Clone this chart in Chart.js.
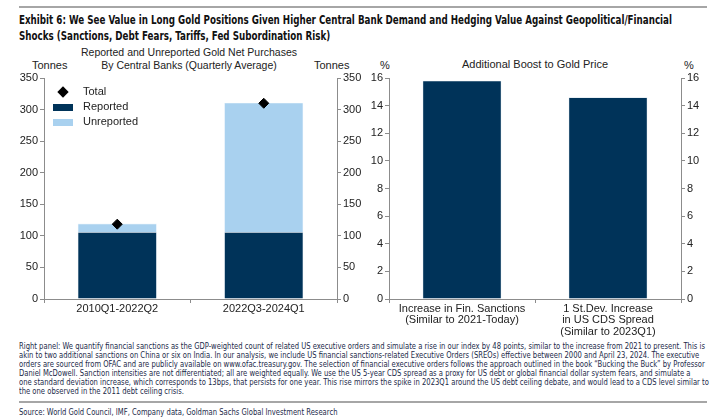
<!DOCTYPE html>
<html>
<head>
<meta charset="utf-8">
<script src="https://cdn.jsdelivr.net/npm/chart.js@4.4.1/dist/chart.umd.min.js"></script>
<style>
  html, body { margin: 0; padding: 0; background: #fff; }
  body { width: 712px; height: 419px; position: relative; overflow: hidden; font-family: "Liberation Sans", Arial, sans-serif; color: #222; }
  .abs { position: absolute; }
  .rule { position: absolute; left: 19px; width: 688px; background: #a6a6a6; }
  .narrow { font-family: "Liberation Sans Narrow", "Arial Narrow", "DejaVu Sans Condensed", sans-serif; white-space: nowrap; transform-origin: 0 0; }
  #title { left: 19px; top: 13px; font-size: 12px; font-weight: bold; line-height: 15.5px; color: #111; }
  .sub { font-size: 10.5px; line-height: 12.5px; text-align: center; color: #222; white-space: nowrap; }
  .unit { font-size: 11px; color: #222; }
  #note { left: 19px; top: 341px; font-size: 9.3px; line-height: 9px; color: #1b2a49; }
  #src { left: 19px; top: 406px; font-size: 9.3px; color: #1b2a49; }
  .leg { font-size: 11px; color: #222; }
  .sw { position: absolute; width: 20px; height: 7px; }
  .box { position: absolute; }
</style>
</head>
<body>
<div class="rule" style="top:6px;height:2px"></div>
<div id="title" class="abs narrow"><span>Exhibit 6: We See Value in Long Gold Positions Given Higher Central Bank Demand and Hedging Value Against Geopolitical/Financial</span><br>Shocks (Sanctions, Debt Fears, Tariffs, Fed Subordination Risk)</div>

<div class="abs sub" style="left:79px;top:46px;width:220px">Reported and Unreported Gold Net Purchases<br>By Central Banks (Quarterly Average)</div>
<div class="abs unit" style="left:32px;top:59px">Tonnes</div>
<div class="abs unit" style="left:314px;top:59px">Tonnes</div>

<div class="abs sub" style="left:430px;top:58px;width:210px;font-size:11px">Additional Boost to Gold Price</div>
<div class="abs unit" style="left:380px;top:59px">%</div>
<div class="abs unit" style="left:684px;top:59px">%</div>

<div class="box" style="left:11px;top:68px;width:360px;height:271px"><canvas id="left"></canvas></div>
<div class="box" style="left:356px;top:68px;width:353px;height:271px"><canvas id="right"></canvas></div>

<!-- legend of the left panel -->
<div class="abs" style="left:57px;top:86px;width:12px;height:12px">
  <div style="position:absolute;left:2px;top:2px;width:8px;height:8px;background:#000;transform:rotate(45deg)"></div>
</div>
<div class="abs leg" style="left:83px;top:85px">Total</div>
<div class="sw" style="left:53px;top:104px;background:#003359"></div>
<div class="abs leg" style="left:83px;top:100px">Reported</div>
<div class="sw" style="left:53px;top:119px;background:#a9d1ef"></div>
<div class="abs leg" style="left:83px;top:115px">Unreported</div>

<div id="note" class="abs narrow"><span>Right panel: We quantify financial sanctions as the GDP-weighted count of related US executive orders and simulate a rise in our index by 48 points, similar to the increase from 2021 to present. This is</span><br>akin to two additional sanctions on China or six on India. In our analysis, we include US financial sanctions-related Executive Orders (SREOs) effective between 2000 and April 23, 2024. The executive<br>orders are sourced from OFAC and are publicly available on www.ofac.treasury.gov. The selection of financial executive orders follows the approach outlined in the book “Bucking the Buck” by Professor<br>Daniel McDowell. Sanction intensities are not differentiated; all are weighted equally. We use the US 5-year CDS spread as a proxy for US debt or global financial dollar system fears, and simulate a<br>one standard deviation increase, which corresponds to 13bps, that persists for one year. This rise mirrors the spike in 2023Q1 around the US debt ceiling debate, and would lead to a CDS level similar to<br>the one observed in the 2011 debt ceiling crisis.</div>
<div class="rule" style="top:401px;height:1.5px"></div>
<div id="src" class="abs narrow">Source: World Gold Council, IMF, Company data, Goldman Sachs Global Investment Research</div>

<script>
// left panel — central bank purchases, tonnes per quarter
const periods = ["2010Q1-2022Q2", "2022Q3-2024Q1"];
const reported = [106, 106];
const unreported = [13.5, 205];
const totals = [118.5, 310];
const tonneTicks = [0, 50, 100, 150, 200, 250, 300, 350];

// right panel — additional boost to gold price, %
const shocks = [
  ["Increase in Fin. Sanctions", "(Similar to 2021-Today)"],
  ["1 St.Dev. Increase", "in US CDS Spread", "(Similar to 2023Q1)"],
];
const boost = [15.8, 14.6];
const pctTicks = [0, 2, 4, 6, 8, 10, 12, 14, 16];

const NAVY = "#003359";
const SKY = "#a9d1ef";
const AXIS = "#8c8c8c";
const FONT = { family: "'Liberation Sans', Arial, sans-serif", size: 11 };

// no narrow face installed: squeeze the condensed text to the reference's line widths
function squeeze(id, width) {
  const box = document.getElementById(id);
  const first = box.querySelector("span") || box;
  const k = width / first.getBoundingClientRect().width;
  box.style.transform = `scaleX(${k})`;
  return k;
}
const k = squeeze("note", 686);
squeeze("title", 653);
document.getElementById("src").style.transform = `scaleX(${k})`;

// y axis with outward tick marks and a fixed width so both panels line up
function yAxis(pos, max, ticks, width) {
  return {
    position: pos,
    min: 0, max: max,
    afterBuildTicks: (s) => { s.ticks = ticks.map((v) => ({ value: v })); },
    afterFit: (s) => { s.width = width; },
    grid: { display: true, drawOnChartArea: false, drawTicks: true, tickLength: 4, color: AXIS },
    border: { color: AXIS },
    ticks: { color: "#222", font: FONT, padding: 2 },
  };
}

function xAxis() {
  return {
    stacked: true,
    afterFit: (s) => { s.height = 40; },
    grid: { display: true, offset: true, drawOnChartArea: false, drawTicks: true, tickLength: 4, color: AXIS },
    border: { color: AXIS },
    ticks: { color: "#222", font: { ...FONT, lineHeight: 1.05 }, padding: 0, maxRotation: 0, autoSkip: false },
  };
}

const common = {
  responsive: true,
  maintainAspectRatio: false,
  animation: false,
  layout: { padding: { top: 10, left: 0, right: 0, bottom: 0 } },
  plugins: { legend: { display: false }, tooltip: { enabled: false } },
};

new Chart(document.getElementById("left"), {
  type: "bar",
  data: {
    labels: periods,
    datasets: [
      { type: "line", label: "Total", data: totals, showLine: false, stack: "total",
        pointStyle: "rectRot", pointRadius: 5, backgroundColor: "#000", borderColor: "#000", order: 0 },
      { label: "Reported", data: reported, backgroundColor: NAVY, borderColor: "#d8e4ee", borderWidth: 0.6,
        categoryPercentage: 0.54, barPercentage: 1, stack: "s", order: 1 },
      { label: "Unreported", data: unreported, backgroundColor: SKY, borderColor: "#e8f2fa", borderWidth: 0.6,
        categoryPercentage: 0.54, barPercentage: 1, stack: "s", order: 1 },
    ],
  },
  options: {
    ...common,
    scales: {
      x: xAxis(),
      y: { ...yAxis("left", 350, tonneTicks, 33), stacked: true },
      y2: { ...yAxis("right", 350, tonneTicks, 34), stacked: true },
    },
  },
});

new Chart(document.getElementById("right"), {
  type: "bar",
  data: {
    labels: shocks,
    datasets: [
      { label: "Boost", data: boost, backgroundColor: NAVY, borderColor: "#d8e4ee", borderWidth: 0.6,
        categoryPercentage: 0.54, barPercentage: 1 },
    ],
  },
  options: {
    ...common,
    scales: {
      x: xAxis(),
      y: yAxis("left", 16, pctTicks, 33),
      y2: yAxis("right", 16, pctTicks, 28),
    },
  },
});
</script>
</body>
</html>
